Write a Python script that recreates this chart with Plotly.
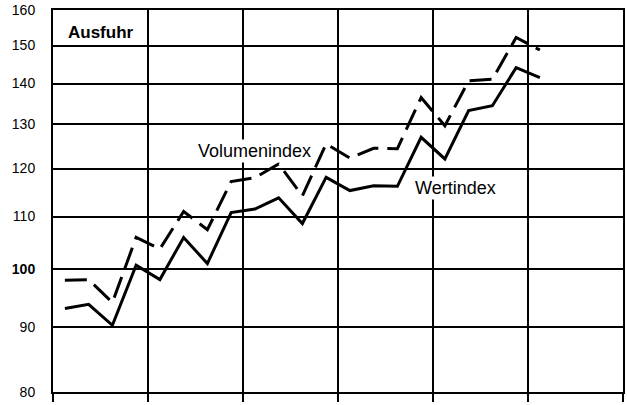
import math
import plotly.graph_objects as go

# Quarterly index values (log scale chart)
quarters = [f"Q{i+1}" for i in range(21)]
wertindex = [93.1, 93.8, 90.3, 100.7, 98.1, 105.9, 101.0, 110.8, 111.5, 113.8, 108.6,
             118.1, 115.3, 116.3, 116.2, 127.0, 122.1, 133.3, 134.5, 144.1, 141.5]
volumenindex = [98.0, 98.1, 94.1, 105.9, 103.7, 111.0, 107.4, 117.2, 118.0, 121.0, 114.2,
                125.5, 122.3, 124.5, 124.4, 136.5, 129.7, 140.7, 141.1, 152.2, 148.8]
y_ticks = [80, 90, 100, 110, 120, 130, 140, 150, 160]
y_ticktext = ["80", "90", "<b>100</b>", "110", "120", "130", "140", "150", "160"]
year_bounds = [0, 4, 8, 12, 16, 20, 24]

x_pos = [i + 0.5 for i in range(len(quarters))]

FONT = "Arial, Liberation Sans, sans-serif"

fig = go.Figure()
fig.add_trace(go.Scatter(x=x_pos, y=volumenindex, mode="lines", name="Volumenindex",
                         line=dict(color="black", width=3, dash="22px,9px")))
fig.add_trace(go.Scatter(x=x_pos, y=wertindex, mode="lines", name="Wertindex",
                         line=dict(color="black", width=3)))

fig.update_layout(
    width=627, height=405,
    margin=dict(l=53, r=2, t=9, b=13),
    paper_bgcolor="white", plot_bgcolor="white",
    showlegend=False,
    font=dict(family=FONT, color="black", size=14),
    xaxis=dict(range=[0, 24], tickmode="array", tickvals=year_bounds, showticklabels=False,
               showgrid=True, gridcolor="black", gridwidth=2,
               ticks="outside", ticklen=8, tickwidth=2, tickcolor="black",
               showline=True, linecolor="black", linewidth=2, mirror=True,
               zeroline=False),
    yaxis=dict(type="log", range=[math.log10(y_ticks[0]), math.log10(y_ticks[-1])],
               tickmode="array", tickvals=y_ticks, ticktext=y_ticktext,
               showgrid=True, gridcolor="black", gridwidth=2,
               showline=True, linecolor="black", linewidth=2, mirror=True,
               ticks="outside", ticklen=13, tickcolor="rgba(0,0,0,0)", tickwidth=1,
               tickfont=dict(size=14, family=FONT, color="black"),
               zeroline=False),
    annotations=[
        dict(text="<b>Ausfuhr</b>", xref="paper", yref="paper", x=0.022, y=0.94,
             xanchor="left", yanchor="middle", showarrow=False,
             font=dict(size=17, color="black"), bgcolor="white"),
        dict(text="Volumenindex", xref="paper", yref="paper", x=0.353, y=0.632,
             xanchor="center", yanchor="middle", showarrow=False,
             font=dict(size=18, color="black"), bgcolor="white"),
        dict(text="Wertindex", xref="paper", yref="paper", x=0.706, y=0.533,
             xanchor="center", yanchor="middle", showarrow=False,
             font=dict(size=18, color="black"), bgcolor="white"),
    ],
)

fig.write_html("out.html", config={"displayModeBar": False},
               post_script="document.body.style.margin='0';")
